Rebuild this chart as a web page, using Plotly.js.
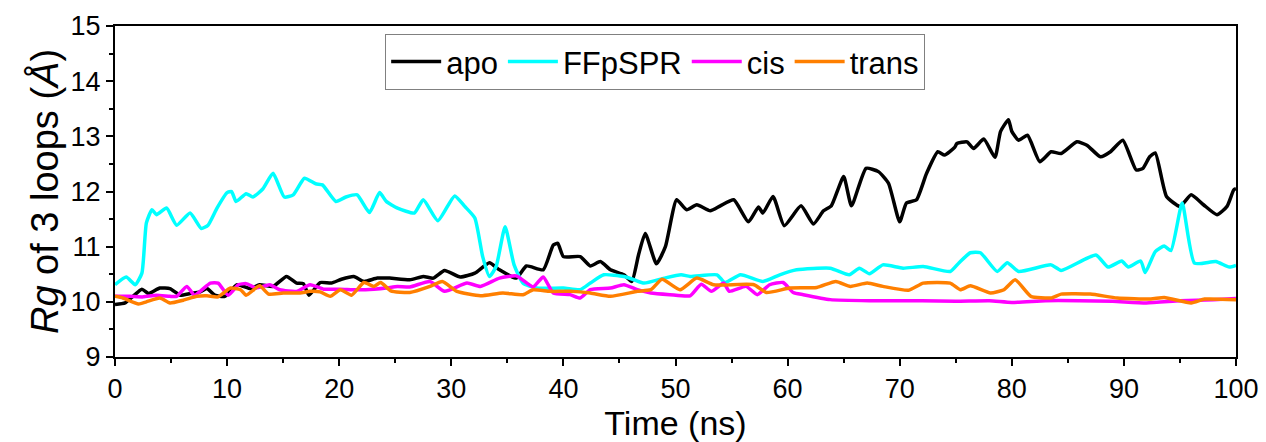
<!DOCTYPE html>
<html>
<head>
<meta charset="utf-8">
<script src="https://cdn.plot.ly/plotly-3.0.1.min.js"></script>
<style>html,body{margin:0;padding:0;background:#fff;}#chart{width:1266px;height:442px;}</style>
</head>
<body>
<div id="chart"></div>
<script>
const seriesNames = ["apo", "FFpSPR", "cis", "trans"];

const apoT = [0,0.9,1.6,2.4,3.0,4.0,4.9,5.8,6.7,7.6,8.2,8.9,9.8,10.9,12.1,12.9,14.1,15.3,16.2,16.8,17.3,18.3,19.3,20.2,21.3,22.2,23.4,24.5,26.3,27.5,28.4,29.4,30.8,32.1,33.4,34.3,35.8,36.7,38.2,39.1,39.5,40.0,41.5,42.4,43.3,44.2,45.4,46.1,46.7,47.3,48.3,49.1,50.1,51.0,51.9,53.1,54.0,55.2,56.5,57.4,57.8,58.7,59.7,61.2,62.3,63.2,63.9,65.0,65.7,67.0,68.1,69.0,70.0,70.6,71.5,72.4,73.4,74.0,74.9,75.1,76.0,76.6,77.5,78.5,79.0,79.7,80.0,80.6,81.4,82.5,83.5,84.4,85.8,86.7,87.9,88.8,89.9,91.1,91.7,92.3,92.8,93.8,95.0,96.0,97.1,98.3,99.2,99.8,100];
const apoV = [9.95,9.98,10.10,10.23,10.15,10.25,10.24,10.12,10.15,10.18,10.24,10.12,10.10,10.31,10.24,10.31,10.28,10.46,10.34,10.33,10.12,10.35,10.34,10.41,10.46,10.37,10.43,10.43,10.40,10.46,10.43,10.57,10.45,10.52,10.71,10.58,10.43,10.65,10.58,11.03,11.06,10.82,10.82,10.65,10.73,10.58,10.49,10.37,10.85,11.24,10.69,11.0,11.85,11.67,11.76,11.65,11.74,11.85,11.45,11.72,11.61,11.91,11.38,11.74,11.41,11.65,11.74,12.27,11.74,12.42,12.36,12.15,11.45,11.79,11.85,12.33,12.72,12.66,12.80,12.87,12.90,12.78,12.95,12.62,13.09,13.30,13.09,12.93,13.02,12.54,12.72,12.69,12.90,12.84,12.63,12.72,12.93,12.39,12.42,12.63,12.70,11.91,11.73,11.94,11.76,11.58,11.73,12.03,12.05];

const ffT = [0,1.0,1.8,2.4,2.8,3.3,3.7,4.6,5.5,6.7,7.7,8.3,9.1,10.0,10.4,10.8,11.7,12.3,13.2,14.1,15.1,15.9,16.9,17.9,18.5,19.7,20.6,21.6,22.7,23.6,24.2,25.2,26.7,27.5,28.8,30.3,31.2,32.1,32.8,33.4,34.0,34.8,35.6,36.4,37.6,40.0,41.5,42.4,43.6,45.4,46.3,47.2,49.0,50.5,51.3,53.7,54.4,55.8,57.8,59.3,60.8,63.8,65.5,66.4,67.3,68.5,70.3,72.1,74.5,75.3,76.3,77.2,78.7,79.6,80.6,83.5,84.4,87.5,88.6,89.8,90.4,91.5,91.9,92.8,93.6,94.2,95.2,96.3,98.2,99.4,100];
const ffV = [10.31,10.45,10.31,10.52,11.43,11.67,11.58,11.70,11.39,11.61,11.33,11.39,11.70,11.98,12.0,11.82,11.96,11.90,12.05,12.33,11.90,11.94,12.24,12.14,12.12,11.82,11.90,11.94,11.62,11.98,11.82,11.70,11.61,11.85,11.47,11.92,11.73,11.52,10.82,10.46,10.64,11.36,10.67,10.34,10.25,10.25,10.22,10.34,10.49,10.46,10.40,10.34,10.43,10.49,10.46,10.49,10.35,10.49,10.37,10.49,10.58,10.61,10.49,10.61,10.51,10.67,10.61,10.64,10.55,10.71,10.89,10.89,10.55,10.71,10.55,10.67,10.57,10.85,10.63,10.74,10.63,10.74,10.53,10.91,11.01,10.93,11.79,10.70,10.73,10.63,10.66];

const cisT = [0,1.3,2.5,3.7,4.9,5.5,6.4,7.1,8.5,9.2,10.1,11.0,11.7,12.6,13.8,14.7,16.2,17.4,18.6,20.1,21.6,23.1,24.2,25.2,26.3,28.1,29.4,31.4,32.6,34.3,35.8,37.3,38.2,39.1,40.6,41.5,42.4,44.2,45.4,46.6,47.8,49.5,51.3,52.3,53.2,54.3,54.8,56.3,57.3,58.4,59.6,60.5,61.4,63.8,67.3,72,75,78,80,83,86,89,92,95,98,100];
const cisV = [10.10,10.10,10.09,10.12,10.10,10.10,10.28,10.12,10.34,10.34,10.12,10.31,10.33,10.25,10.31,10.22,10.19,10.31,10.23,10.23,10.22,10.23,10.25,10.28,10.27,10.37,10.19,10.34,10.28,10.43,10.47,10.27,10.45,10.16,10.13,10.07,10.22,10.25,10.31,10.22,10.16,10.13,10.11,10.32,10.19,10.34,10.19,10.28,10.13,10.31,10.35,10.17,10.13,10.04,10.02,10.02,10.01,10.02,9.99,10.02,10.02,10.01,9.98,10.02,10.04,10.06];

const transT = [0,0.7,2.1,2.8,4.0,4.9,6.1,7.3,8.2,9.2,10.3,11.2,11.7,12.9,13.7,15.0,16.5,17.4,18.3,19.2,20.1,21.1,22.2,23.1,23.7,24.6,26.3,28.1,29.2,30.5,32.6,34.6,36.4,37.3,38.8,40.6,42.4,44.2,46.6,47.8,48.8,50.4,51.9,53.4,57.0,58.1,60.2,62.6,64.3,65.6,67.1,68.5,70.8,72.1,74.5,75.4,76.3,78.1,79.3,80.3,81.7,83.5,84.4,87.0,89.4,92.4,93.6,96.0,97.2,100];
const transV = [10.10,10.07,9.96,10.0,10.07,9.98,10.03,10.10,10.11,10.09,10.25,10.22,10.12,10.29,10.14,10.16,10.16,10.19,10.18,10.10,10.22,10.12,10.35,10.28,10.35,10.20,10.17,10.28,10.37,10.19,10.11,10.16,10.13,10.22,10.19,10.19,10.16,10.10,10.19,10.22,10.41,10.22,10.43,10.31,10.31,10.17,10.25,10.26,10.37,10.28,10.34,10.28,10.21,10.34,10.34,10.22,10.29,10.16,10.22,10.40,10.10,10.07,10.14,10.14,10.07,10.05,10.08,9.98,10.05,10.04];

const xTickVals = [0,10,20,30,40,50,60,70,80,90,100];
const yTickVals = [9,10,11,12,13,14,15];

const colors = ["#000000", "#00FFFF", "#FF00FF", "#FF7F00"];
const xs = [apoT, ffT, cisT, transT];
const ys = [apoV, ffV, cisV, transV];

const FONT = "Arial, Liberation Sans, sans-serif";

const traces = seriesNames.map((n, i) => ({
  x: xs[i], y: ys[i], name: n, type: "scatter", mode: "lines",
  line: {color: colors[i], width: 3.5, shape: "spline", smoothing: 0.5}
}));

const axisCommon = {
  showline: true, linecolor: "#000", linewidth: 2, mirror: true,
  ticks: "outside", ticklen: 7, tickwidth: 2, tickcolor: "#000",
  showgrid: false, zeroline: false,
  tickfont: {family: FONT, size: 27, color: "#000"}
};

const layout = {
  width: 1266, height: 442,
  margin: {l: 115, r: 30, t: 26, b: 85},
  paper_bgcolor: "#fff", plot_bgcolor: "#fff",
  showlegend: true,
  legend: {
    orientation: "h", x: 0.241, y: 0.976, xanchor: "left", yanchor: "top",
    bordercolor: "#808080", borderwidth: 1, bgcolor: "rgba(255,255,255,0)",
    font: {family: FONT, size: 31, color: "#000"},
    itemwidth: 50, tracegroupgap: 0
  },
  xaxis: Object.assign({}, axisCommon, {
    range: [0, 100], tickvals: xTickVals, ticktext: xTickVals.map(String),
    minor: {dtick: 5, tick0: 0, ticks: "outside", ticklen: 4, tickwidth: 2, tickcolor: "#000", showgrid: false},
    title: {text: "Time (ns)", font: {family: FONT, size: 34, color: "#000"}, standoff: 0}
  }),
  yaxis: Object.assign({}, axisCommon, {
    range: [9, 15], tickvals: yTickVals, ticktext: yTickVals.map(String),
    minor: {dtick: 0.5, tick0: 9, ticks: "outside", ticklen: 4, tickwidth: 2, tickcolor: "#000", showgrid: false},
    title: {text: "<i>Rg</i> of 3 loops (<i>Å</i>)", font: {family: FONT, size: 38, color: "#000"}, standoff: 0}
  })
};

Plotly.newPlot("chart", traces, layout, {displayModeBar: false, staticPlot: true});
</script>
</body>
</html>
